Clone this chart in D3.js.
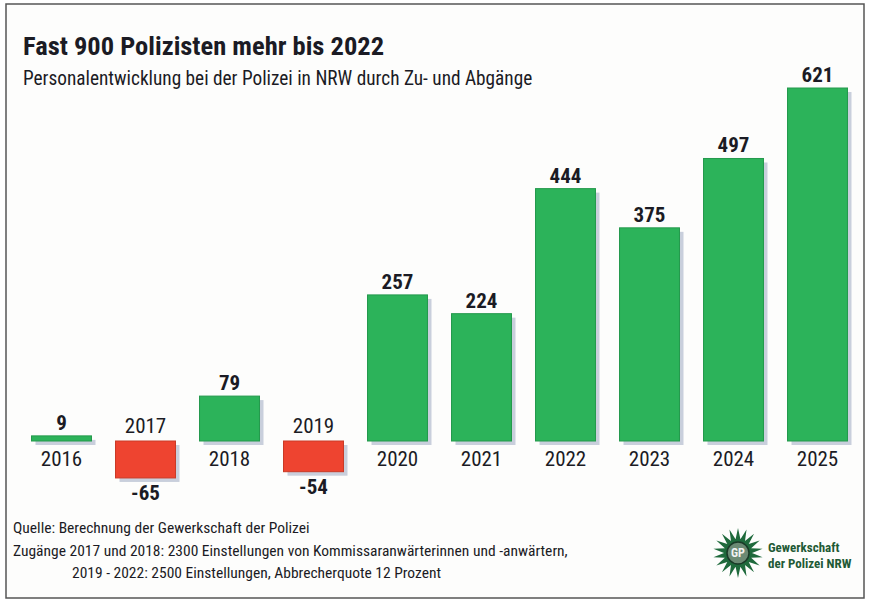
<!DOCTYPE html>
<html>
<head>
<meta charset="utf-8">
<script src="https://cdn.jsdelivr.net/npm/d3@7"></script>
<style>
  body { margin: 0; background: #fff; }
  svg { display: block; }
  text { font-family: "Liberation Sans Narrow", "Arial Narrow", "Roboto Condensed", sans-serif; }
</style>
</head>
<body>
<svg></svg>
<script>
// Chart data
const years = ["2016", "2017", "2018", "2019", "2020", "2021", "2022", "2023", "2024", "2025"];
const values = [9, -65, 79, -54, 257, 224, 444, 375, 497, 621];

const title = "Fast 900 Polizisten mehr bis 2022";
const subtitle = "Personalentwicklung bei der Polizei in NRW durch Zu- und Abgänge";
const footnotes = [
    "Quelle: Berechnung der Gewerkschaft der Polizei",
    "Zugänge 2017 und 2018: 2300 Einstellungen von Kommissaranwärterinnen und -anwärtern,",
    "2019 - 2022: 2500 Einstellungen, Abbrecherquote 12 Prozent"
];
const logoLines = ["Gewerkschaft", "der Polizei NRW"];

const width = 870;
const height = 603;

const green = "#2cb35a";
const red = "#ee4430";
const ink = "#1b1b24";

const svg = d3.select("svg")
    .attr("width", width)
    .attr("height", height);

// Frame
svg.append("rect")
    .attr("x", 6)
    .attr("y", 4)
    .attr("width", 858)
    .attr("height", 594)
    .attr("fill", "#fdfdfc")
    .attr("stroke", "#555")
    .attr("stroke-width", 1.5);

// Titles
svg.append("text")
    .attr("x", 23)
    .attr("y", 55)
    .attr("font-size", 26.5)
    .attr("font-weight", "bold")
    .attr("fill", ink)
    .text(title);

svg.append("text")
    .attr("x", 23)
    .attr("y", 85)
    .attr("font-size", 19.3)
    .attr("fill", ink)
    .text(subtitle);

// Scales
const x = d3.scaleBand()
    .domain(years)
    .range([19.5, 859.5])
    .paddingInner(0.286)
    .paddingOuter(0.143);

const y = d3.scaleLinear()
    .domain([0, 621])
    .range([441, 88]);

const data = years.map((yr, i) => ({ year: yr, value: values[i] }));

const bars = svg.append("g");

// Shadows behind the bars
bars.selectAll(".shadow")
    .data(data)
    .enter()
    .append("rect")
    .attr("class", "shadow")
    .attr("x", d => x(d.year) + 4)
    .attr("y", d => Math.min(y(d.value), y(0)) + 4)
    .attr("width", x.bandwidth())
    .attr("height", d => Math.abs(y(d.value) - y(0)))
    .attr("fill", "#c9cfdc");

bars.selectAll(".bar")
    .data(data)
    .enter()
    .append("rect")
    .attr("class", "bar")
    .attr("x", d => x(d.year))
    .attr("y", d => Math.min(y(d.value), y(0)))
    .attr("width", x.bandwidth())
    .attr("height", d => Math.abs(y(d.value) - y(0)))
    .attr("fill", d => d.value < 0 ? red : green)
    .attr("stroke", d => d.value < 0 ? "#c93a26" : "#24994c")
    .attr("stroke-width", 1);

// Value labels
bars.selectAll(".value")
    .data(data)
    .enter()
    .append("text")
    .attr("class", "value")
    .attr("x", d => x(d.year) + x.bandwidth() / 2)
    .attr("y", d => d.value < 0 ? y(d.value) + 22 : y(d.value) - 6)
    .attr("text-anchor", "middle")
    .attr("font-size", 21)
    .attr("font-weight", "bold")
    .attr("fill", ink)
    .text(d => d.value);

// Year labels: below the zero line for gains, above it for losses
bars.selectAll(".year")
    .data(data)
    .enter()
    .append("text")
    .attr("class", "year")
    .attr("x", d => x(d.year) + x.bandwidth() / 2)
    .attr("y", d => d.value < 0 ? y(0) - 8 : y(0) + 25)
    .attr("text-anchor", "middle")
    .attr("font-size", 21)
    .attr("fill", ink)
    .text(d => d.year);

// Footnotes
svg.append("text")
    .attr("x", 13)
    .attr("y", 533)
    .attr("font-size", 15.5)
    .attr("fill", ink)
    .text(footnotes[0]);

svg.append("text")
    .attr("x", 13)
    .attr("y", 556)
    .attr("font-size", 15.5)
    .attr("fill", ink)
    .text(footnotes[1]);

svg.append("text")
    .attr("x", 72)
    .attr("y", 578)
    .attr("font-size", 15.5)
    .attr("fill", ink)
    .text(footnotes[2]);

// Logo: star badge
const logo = svg.append("g")
    .attr("transform", "translate(738,553)");

const spikes = 18;
const starPoints = d3.range(spikes * 2).map(i => {
    const r = i % 2 === 0 ? 25 : 14;
    const a = i * Math.PI / spikes - Math.PI / 2;
    return [r * Math.cos(a), r * Math.sin(a)];
});

logo.append("path")
    .attr("d", d3.line()(starPoints) + "Z")
    .attr("fill", "#1f6a3c");

logo.append("circle")
    .attr("r", 11)
    .attr("fill", "#6c8a74")
    .attr("stroke", "#1a3a28")
    .attr("stroke-width", 1.5);

logo.append("text")
    .attr("y", 4)
    .attr("text-anchor", "middle")
    .attr("font-size", 12)
    .attr("font-weight", "bold")
    .attr("fill", "#f2f2f2")
    .text("GP");

svg.selectAll(".logo-text")
    .data(logoLines)
    .enter()
    .append("text")
    .attr("class", "logo-text")
    .attr("x", 768)
    .attr("y", (d, i) => 552 + i * 16)
    .attr("font-size", 13)
    .attr("font-weight", "bold")
    .attr("fill", "#1f5a36")
    .text(d => d);
</script>
</body>
</html>
